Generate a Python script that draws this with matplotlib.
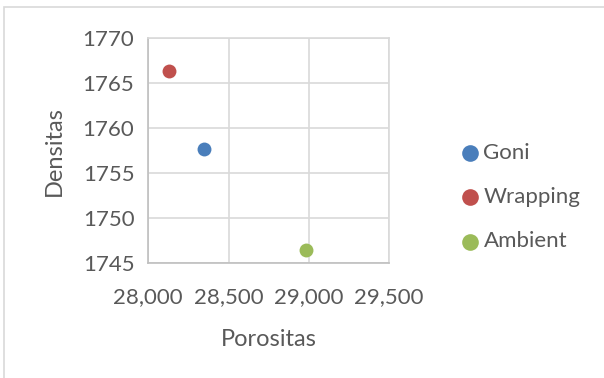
import matplotlib
matplotlib.use("Agg")
import matplotlib.pyplot as plt
from matplotlib.patches import Rectangle
from matplotlib.ticker import FuncFormatter, MultipleLocator

# data points
series = ["Goni", "Wrapping", "Ambient"]
porositas = [28348, 28130, 28982]
densitas = [1757.7, 1766.4, 1746.5]
colors = ["#4A7EBB", "#C0504D", "#9BBB59"]

text_color = "#595959"
grid_color = "#D9D9D9"

plt.rcParams["font.family"] = ["Lato", "DejaVu Sans"]

fig = plt.figure(figsize=(6.04, 3.78), dpi=100)
fig.patch.set_facecolor("white")

# outer chart border
fig.patches.append(Rectangle((4 / 604, -0.1), 1.2, 1 - 7 / 378 + 0.1,
                             transform=fig.transFigure, fill=False,
                             edgecolor=grid_color, linewidth=1.2))

ax = fig.add_axes([148.3 / 604, 1 - 263.3 / 378, 240.7 / 604, 225 / 378])

for name, x, y, c in zip(series, porositas, densitas, colors):
    ax.scatter([x], [y], s=100, color=c, label=name, zorder=3, linewidths=0)

ax.set_xlim(28000, 29500)
ax.set_ylim(1745, 1770)
ax.xaxis.set_major_locator(MultipleLocator(500))
ax.yaxis.set_major_locator(MultipleLocator(5))
ax.xaxis.set_major_formatter(FuncFormatter(lambda v, p: f"{int(v):,}"))
ax.grid(True, color=grid_color, linewidth=1.2)
ax.set_axisbelow(True)

for s in ax.spines.values():
    s.set_color(grid_color)
    s.set_linewidth(1.2)
ax.spines["left"].set_color("#BFBFBF")
ax.spines["bottom"].set_color("#BFBFBF")

ax.tick_params(length=0, labelsize=16, colors=text_color)
ax.tick_params(axis="x", pad=17)
ax.tick_params(axis="y", pad=10)

ax.set_xlabel("Porositas", fontsize=17, color=text_color)
ax.set_ylabel("Densitas", fontsize=17, color=text_color)
ax.xaxis.set_label_coords(0.50, -0.29)
ax.yaxis.set_label_coords(-0.348, 0.5)

leg = fig.legend(loc="center left", bbox_to_anchor=(459 / 604, 1 - 197 / 378),
                 bbox_transform=fig.transFigure, frameon=False,
                 fontsize=16, labelcolor=text_color, handlelength=1.0,
                 handletextpad=0.1, labelspacing=1.1, markerscale=1.2,
                 borderpad=0, borderaxespad=0)

fig.savefig("out.png", dpi=100)
